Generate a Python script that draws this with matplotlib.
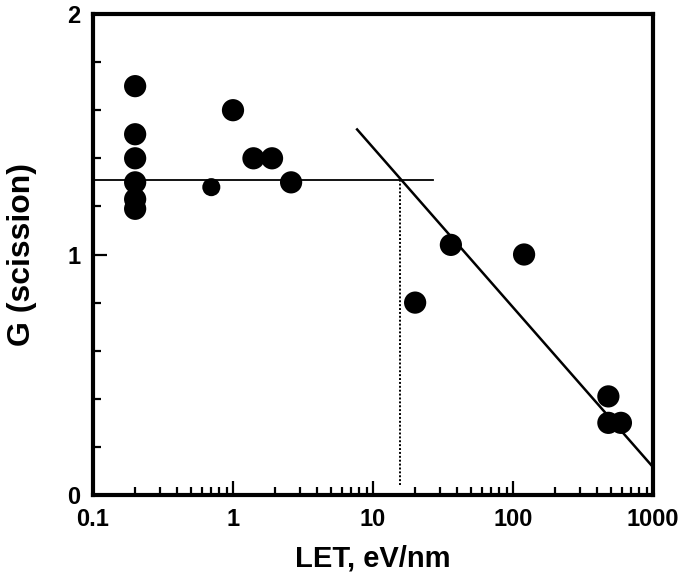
import numpy as np
import matplotlib.pyplot as plt
from matplotlib.ticker import FixedLocator, LogLocator, NullFormatter

# measured points: LET (eV/nm) vs G(scission)
let_vals = [0.2, 0.2, 0.2, 0.2, 0.2, 0.2, 0.7, 1.0, 1.4, 1.9, 2.6, 20, 36, 120, 480, 480, 590]
g_vals = [1.70, 1.50, 1.40, 1.30, 1.23, 1.19, 1.28, 1.60, 1.40, 1.40, 1.30, 0.80, 1.04, 1.00, 0.41, 0.30, 0.30]
marker_pt = [16, 16, 16, 16, 16, 16, 13, 16, 16, 16, 16, 16, 16, 16, 16, 16, 16]

# fitted lines
flat_x = [0.1, 27]
flat_g = [1.31, 1.31]
slope_x = [7.7, 1000]
slope_g = [1.52, 0.116]
cross_x = [15.6, 15.6]
cross_g = [0.04, 1.31]

plt.rcParams['font.family'] = ['Liberation Sans', 'DejaVu Sans']
plt.rcParams['font.weight'] = 'bold'

fig = plt.figure(figsize=(6.85, 5.76), dpi=100)
ax = fig.add_axes([93 / 685, 1 - 495 / 576, 560 / 685, 481 / 576])

ax.scatter(let_vals, g_vals, s=np.array(marker_pt) ** 2, color='black', zorder=3, linewidths=0)
ax.plot(flat_x, flat_g, color='black', lw=1.3)
ax.plot(slope_x, slope_g, color='black', lw=1.8)
ax.plot(cross_x, cross_g, color='black', lw=1.4, linestyle=(0, (1, 1)))

ax.set_xscale('log')
ax.set_xlim(0.1, 1000)
ax.set_ylim(0, 2)

ax.xaxis.set_major_locator(FixedLocator([0.1, 1, 10, 100, 1000]))
ax.set_xticklabels(['0.1', '1', '10', '100', '1000'])
ax.xaxis.set_minor_locator(LogLocator(base=10, subs=np.arange(2, 10)))
ax.xaxis.set_minor_formatter(NullFormatter())
ax.yaxis.set_major_locator(FixedLocator([0, 1, 2]))
ax.set_yticklabels(['0', '1', '2'])
ax.yaxis.set_minor_locator(FixedLocator([0.2, 0.4, 0.6, 0.8, 1.2, 1.4, 1.6, 1.8]))

ax.tick_params(which='both', direction='in', top=False, right=False, width=1.6)
ax.tick_params(which='major', length=10, labelsize=17, pad=9)
ax.tick_params(which='minor', length=5.5)
for lab in ax.get_xticklabels() + ax.get_yticklabels():
    lab.set_fontweight('bold')

for sp in ax.spines.values():
    sp.set_linewidth(3)

ax.set_xlabel('LET, eV/nm', fontsize=21, fontweight='bold', labelpad=10)
ax.set_ylabel('G (scission)', fontsize=23, fontweight='bold', labelpad=22)

fig.savefig('out.png', dpi=100)
